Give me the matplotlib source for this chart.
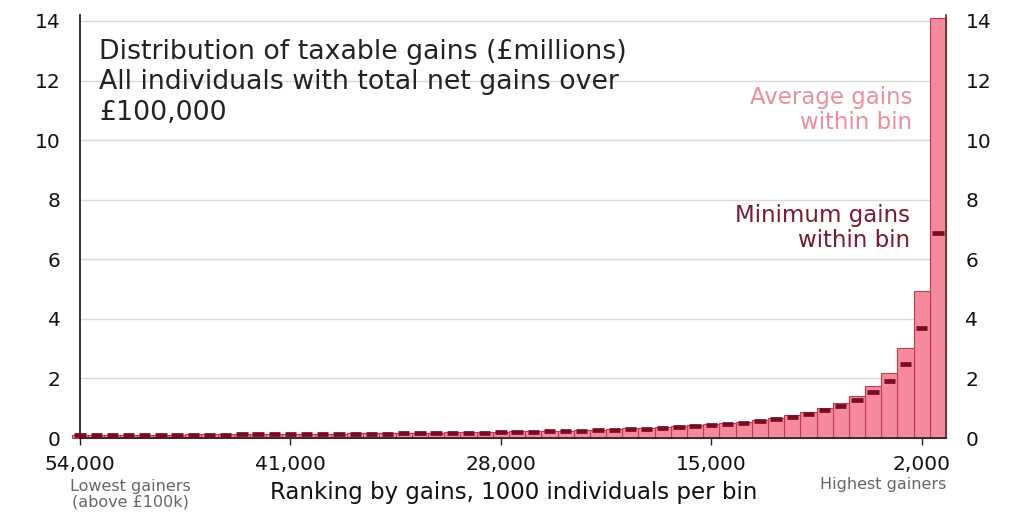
"""Distribution of taxable gains by ranking bin (1000 individuals per bin)."""

import matplotlib
matplotlib.use("Agg")
import matplotlib.pyplot as plt
import numpy as np

# ── Data (£ millions) ────────────────────────────────────────────────────────
# rank of bin, in thousands of individuals (1 = highest gainers)
rank_k = list(range(1, 55))

avg_gains = [
    14.10, 4.93, 3.01, 2.19, 1.73, 1.42, 1.19, 1.01, 0.87, 0.77,
    0.68, 0.61, 0.55, 0.50, 0.46, 0.43, 0.40, 0.37, 0.34, 0.32,
    0.30, 0.28, 0.265, 0.25, 0.24, 0.23, 0.22, 0.21, 0.20, 0.19,
    0.185, 0.18, 0.175, 0.17, 0.165, 0.16, 0.155, 0.15, 0.145, 0.14,
    0.137, 0.134, 0.131, 0.128, 0.125, 0.122, 0.12, 0.117, 0.115, 0.113,
    0.11, 0.108, 0.105, 0.103,
]

min_gains = [
    6.88, 3.70, 2.47, 1.92, 1.54, 1.29, 1.08, 0.94, 0.81, 0.72,
    0.63, 0.57, 0.51, 0.47, 0.43, 0.40, 0.37, 0.34, 0.31, 0.29,
    0.28, 0.26, 0.24, 0.23, 0.22, 0.21, 0.20, 0.19, 0.18, 0.175,
    0.17, 0.165, 0.16, 0.155, 0.15, 0.145, 0.14, 0.135, 0.13, 0.128,
    0.125, 0.122, 0.12, 0.118, 0.115, 0.113, 0.11, 0.108, 0.106, 0.105,
    0.104, 0.103, 0.102, 0.100,
]

x_ticks = [54, 41, 28, 15, 2]
x_tick_labels = ["54,000", "41,000", "28,000", "15,000", "2,000"]
y_ticks = [0, 2, 4, 6, 8, 10, 12, 14]

# ── Style ────────────────────────────────────────────────────────────────────
BAR_FILL = "#F58A9C"
BAR_EDGE = "#C23A55"
MIN_COLOR = "#7A0C22"
AVG_TEXT = "#E8909E"
MIN_TEXT = "#7A1A2A"
GRID = "#DADADA"

plt.rcParams["font.family"] = ["DejaVu Sans"]

fig = plt.figure(figsize=(10.24, 5.12), dpi=100)
ax = fig.add_axes([80 / 1024, 1 - 438 / 512, 866 / 1024, 423 / 512])

ranks = np.array(rank_k)
ax.bar(ranks, avg_gains, width=1.0, color=BAR_FILL, edgecolor=BAR_EDGE,
       linewidth=0.8, zorder=2, clip_on=False)
ax.hlines(min_gains, ranks - 0.35, ranks + 0.35, colors=MIN_COLOR,
          linewidth=3.4, zorder=3, clip_on=False)

ax.set_xlim(54, 0.5)
ax.set_ylim(0, 14.2)

# gridlines
for y in y_ticks[1:]:
    ax.axhline(y, color=GRID, linewidth=1, zorder=1)

ax.set_xticks(x_ticks)
ax.set_xticklabels(x_tick_labels, fontsize=14.5, color="#111111")
ax.set_yticks(y_ticks)
ax.tick_params(axis="x", direction="out", length=5, width=1, pad=7, color="#222222")
ax.tick_params(axis="y", length=0, pad=14, labelsize=14.5, labelcolor="#111111",
               labelleft=True, labelright=True)

ax.spines["top"].set_visible(False)
ax.spines["left"].set_color("#111111")
ax.spines["left"].set_linewidth(1.2)
ax.spines["bottom"].set_color("#222222")
ax.spines["bottom"].set_linewidth(1.2)
ax.spines["right"].set_color("#5A3030")
ax.spines["right"].set_linewidth(1.2)
ax.set_axisbelow(True)

# ── Text ─────────────────────────────────────────────────────────────────────
fig.text(99 / 1024, 1 - 39 / 512,
         "Distribution of taxable gains (£millions)\n"
         "All individuals with total net gains over\n£100,000",
         fontsize=19.3, color="#222222", ha="left", va="top", linespacing=1.22)

fig.text(912 / 1024, 1 - 110 / 512, "Average gains\nwithin bin",
         fontsize=16.5, color=AVG_TEXT, ha="right", va="center", linespacing=1.15)
fig.text(910 / 1024, 1 - 228 / 512, "Minimum gains\nwithin bin",
         fontsize=16.5, color=MIN_TEXT, ha="right", va="center", linespacing=1.15)

fig.text(514 / 1024, 1 - 493 / 512, "Ranking by gains, 1000 individuals per bin",
         fontsize=16.5, color="#111111", ha="center", va="center")
fig.text(130 / 1024, 1 - 494 / 512, "Lowest gainers\n(above £100k)",
         fontsize=11.5, color="#666666", ha="center", va="center", linespacing=1.05)
fig.text(883 / 1024, 1 - 484 / 512, "Highest gainers",
         fontsize=11.5, color="#666666", ha="center", va="center")

fig.savefig("out.png", dpi=100, facecolor="white")
